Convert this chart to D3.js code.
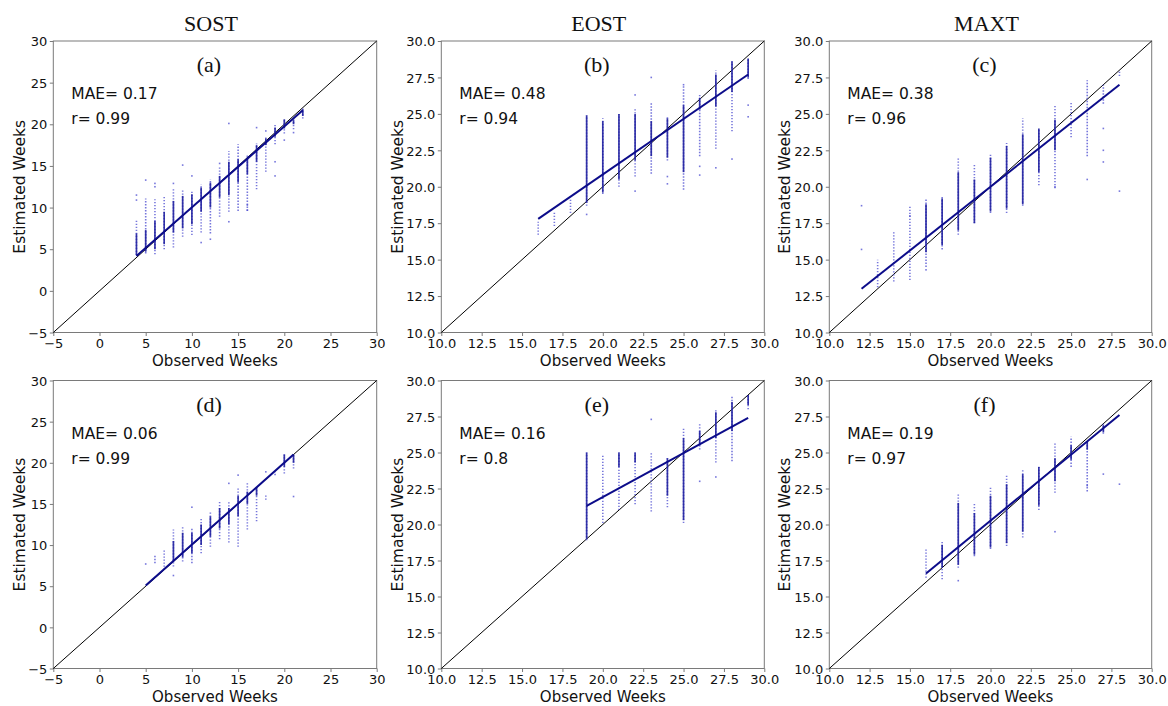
<!DOCTYPE html>
<html>
<head>
<meta charset="utf-8">
<script src="https://cdn.jsdelivr.net/npm/d3@7"></script>
<style>
  body { margin: 0; background: #fff; }
  svg { display: block; }
</style>
</head>
<body>
<svg id="fig" width="1168" height="706"></svg>
<script>
// ---- labels and statistics ----
const columnTitles = ["SOST", "EOST", "MAXT"];
const panelLetters = ["(a)", "(b)", "(c)", "(d)", "(e)", "(f)"];
const maeValues = ["0.17", "0.48", "0.38", "0.06", "0.16", "0.19"];
const rValues = ["0.99", "0.94", "0.96", "0.99", "0.8", "0.97"];

// ---- axis ranges and ticks ----
const sostDomain = [-5, 30];
const weekDomain = [10, 30];
const sostTicks = [-5, 0, 5, 10, 15, 20, 25, 30];
const weekTicks = [10, 12.5, 15, 17.5, 20, 22.5, 25, 27.5, 30];

// ---- observations: [observed week, lowest estimate, highest estimate] ----
// full spread of estimates per observed week
const spreadA = [[4,4.3,8.5],[5,4.5,11.1],[6,4.4,11],[7,5.0,11.3],[8,5.2,12.3],[9,6.5,12.1],[10,6.7,11.9],[11,7.0,12.8],[12,6.9,13.4],[13,8.9,15.0],[14,9.5,16.8],[15,9.6,17.6],[16,9.6,16.4],[17,12.2,17.7],[18,14.3,18.6],[19,17.6,19.9],[20,18.9,20.7],[21,19.4,20.6],[22,20.7,21.9]];
// dense core of estimates per observed week
const coreA = [[4,4.3,6.9],[5,4.7,7.3],[6,5.0,8.4],[7,5.6,9.5],[8,7,10.8],[9,7.5,11.4],[10,8.0,11.6],[11,9.5,12.4],[12,10,13],[13,11.2,13.8],[14,11.5,15.5],[15,13,15.8],[16,14,16],[17,15.5,17.5],[18,17.5,18.3],[19,18.5,19.6],[20,19.5,20.6],[21,20,20.5],[22,21,21.8]];
// isolated estimates: [observed, estimated]
const pointsA = [[4,11.5],[4,10.9],[5,13.3],[6,12.9],[6,12.5],[8,12.9],[9,15.1],[10,13.8],[11,5.8],[12,6.2],[13,15.3],[14,20.1],[14,8.3],[16,10.3],[16,9.7],[17,19.6],[18,19.2],[19,15.5],[19,13.8],[20,18.1],[21,19.0]];
const fitA = [[4,4.2],[22,21.7]];

const spreadB = [[16,16.7,17.6],[17,17.3,18.3],[18,18.2,19.1],[19,18.7,24.9],[20,19.5,24.7],[21,20.0,25.0],[22,20.7,25.4],[23,20.9,25.8],[24,21.8,24.8],[25,19.8,26.9],[26,22.1,26.3],[27,22.6,28.0],[28,23.8,28.7],[29,27.4,28.8]];
const coreB = [[19,18.9,24.9],[20,19.6,24.5],[21,20.5,25.0],[22,21.8,25.0],[23,22.1,24.5],[24,22.0,24.7],[25,21.0,25.6],[26,25.3,26.1],[27,25.5,27.7],[28,26.5,28.6],[29,27.5,28.8]];
const pointsB = [[19,18.1],[22,26.3],[22,19.7],[23,27.5],[24,20.7],[24,20.2],[25,27.0],[26,21.4],[26,20.8],[27,21.3],[28,21.9],[29,25.6],[29,24.8]];
const fitB = [[16,17.8],[29,27.7]];

const spreadC = [[13,13.1,15.0],[14,13.5,17.0],[15,13.6,18.7],[16,14.5,19.2],[17,15.7,19.4],[18,16.7,22.0],[19,17.5,21.6],[20,18.2,22.3],[21,18.2,23.0],[22,18.7,24.7],[23,20.1,24.0],[24,19.9,25.6],[25,23.4,25.8],[26,22.1,27.3],[27,25.7,27.0],[28,27.6,28.0]];
const coreC = [[16,15.5,18.8],[17,16.0,19.2],[18,17.0,21.0],[19,17.5,20.5],[20,18.3,22.0],[21,18.5,22.8],[22,18.8,23.6],[23,21.0,24.0],[24,22.5,24.6]];
const pointsC = [[12,18.7],[12,15.7],[15,18.0],[16,14.3],[24,20.0],[26,20.5],[27,24.0],[27,22.5],[27,21.7],[28,19.7]];
const fitC = [[12,13.0],[28,27.0]];

const spreadD = [[6,7.8,8.7],[7,7.0,9.4],[8,7.4,11.9],[9,8.0,12.3],[10,7.8,12.1],[11,9.0,13.3],[12,9.8,14.1],[13,10.7,15.3],[14,10.3,15.3],[15,9.8,17.1],[16,11.9,17.5],[17,12.9,17.1],[18,15.5,16.1],[19,18.5,18.9],[20,18.7,21.1],[21,19.3,21.1]];
const coreD = [[8,8,10.5],[9,8.5,11.5],[10,9,11.5],[11,10,12.5],[12,11,13.5],[13,12,14.5],[14,12.5,14.5],[15,13.5,16],[16,15,16.5],[17,16,17],[20,19.5,21],[21,20,21]];
const pointsD = [[5,7.7],[8,6.3],[10,14.6],[14,17.5],[15,18.5],[18,18.9],[21,15.9]];
const fitD = [[5,5.1],[21,21.0]];

const spreadE = [[19,18.9,25.0],[20,20.1,24.9],[21,21.0,25.0],[22,21.4,25.0],[23,20.9,25.0],[24,21.2,24.7],[25,20.1,26.7],[26,25.2,27.0],[27,24.3,28.0],[28,24.4,28.9],[29,28.0,29.0]];
const coreE = [[19,19.0,25.0],[21,24,25],[22,24.3,25],[24,22,24.6],[25,20.3,26],[26,25.5,26.5],[27,26,27.8],[28,26.5,28.5],[29,28.3,29]];
const pointsE = [[23,27.3],[26,23.0],[27,23.3]];
const fitE = [[19,21.3],[29,27.4]];

const spreadF = [[16,16.3,18.3],[17,16.2,18.9],[18,17.0,22.2],[19,17.8,21.5],[20,18.3,22.6],[21,18.5,23.4],[22,19.1,23.8],[23,21.0,24.1],[24,22.2,25.7],[25,24.0,26.1],[26,22.3,25.8],[27,26.3,27.0]];
const coreF = [[17,17,18.6],[18,17.2,21.5],[19,17.9,20.8],[20,18.4,22.0],[21,18.7,22.8],[22,19.5,23.5],[23,21.3,24.0],[24,23,24.6],[25,24.5,25.5],[26,25.2,25.8],[27,26.4,26.9]];
const pointsF = [[18,16.1],[24,19.5],[26,22.7],[27,23.5],[28,22.8]];
const fitF = [[16,16.6],[28,27.6]];

// ---- panel assembly ----
const panels = [
  { spread: spreadA, core: coreA, points: pointsA, fit: fitA, domain: sostDomain, ticks: sostTicks },
  { spread: spreadB, core: coreB, points: pointsB, fit: fitB, domain: weekDomain, ticks: weekTicks },
  { spread: spreadC, core: coreC, points: pointsC, fit: fitC, domain: weekDomain, ticks: weekTicks },
  { spread: spreadD, core: coreD, points: pointsD, fit: fitD, domain: sostDomain, ticks: sostTicks },
  { spread: spreadE, core: coreE, points: pointsE, fit: fitE, domain: weekDomain, ticks: weekTicks },
  { spread: spreadF, core: coreF, points: pointsF, fit: fitF, domain: weekDomain, ticks: weekTicks }
];

// plot frames (left, right) per column and (top, bottom) per row
const colX = [[53.3, 376.7], [441.3, 764.3], [829.3, 1151.7]];
const rowY = [[41, 332.5], [380.5, 668.5]];
// distance from the frame to the y-axis title baseline (wider tick labels push it out)
const yTitleGap = [28.5, 38, 39];
// distance from the frame bottom to the x-axis title baseline
const xTitleGap = [33.5, 33];

const svg = d3.select("#fig");
const sans = "DejaVu Sans, sans-serif";
const serif = "'Liberation Serif', 'DejaVu Serif', serif";
const spineColor = "#7a7a7a";

columnTitles.forEach((t, c) => {
  const [x0, x1] = colX[c];
  svg.append("text")
    .attr("x", (x0 + x1) / 2 - 4).attr("y", 30.5)
    .attr("text-anchor", "middle")
    .attr("font-family", serif).attr("font-size", 22)
    .attr("fill", "#111")
    .text(t);
});

panels.forEach((p, i) => {
  const c = i % 3, r = Math.floor(i / 3);
  const [x0, x1] = colX[c];
  const [y0, y1] = rowY[r];
  const x = d3.scaleLinear().domain(p.domain).range([x0, x1]);
  const y = d3.scaleLinear().domain(p.domain).range([y1, y0]);
  const fmt = p.domain[0] < 0 ? d3.format("d") : d3.format(".1f");
  const g = svg.append("g");

  // axes
  const xa = g.append("g").attr("transform", `translate(0,${y1})`)
    .call(d3.axisBottom(x).tickValues(p.ticks).tickFormat(fmt).tickSize(3.5).tickPadding(2.5).tickSizeOuter(0));
  const ya = g.append("g").attr("transform", `translate(${x0},0)`)
    .call(d3.axisLeft(y).tickValues(p.ticks).tickFormat(fmt).tickSize(3.5).tickPadding(2.5).tickSizeOuter(0));
  [xa, ya].forEach(a => {
    a.select(".domain").remove();
    a.selectAll("line").attr("stroke", spineColor).attr("stroke-width", 1);
    a.selectAll("text").attr("font-family", sans).attr("font-size", 13).attr("fill", "#111");
  });
  ya.selectAll("text").attr("dy", "0.36em");

  // frame
  g.append("rect").attr("x", x0).attr("y", y0)
    .attr("width", x1 - x0).attr("height", y1 - y0)
    .attr("fill", "none").attr("stroke", spineColor).attr("stroke-width", 1);

  // axis titles
  g.append("text")
    .attr("x", (x0 + x1) / 2).attr("y", y1 + xTitleGap[r])
    .attr("text-anchor", "middle")
    .attr("font-family", sans).attr("font-size", 15).attr("fill", "#111")
    .text("Observed Weeks");
  g.append("text")
    .attr("transform", `translate(${x0 - yTitleGap[c]},${(y0 + y1) / 2}) rotate(-90)`)
    .attr("text-anchor", "middle")
    .attr("font-family", sans).attr("font-size", 15.5).attr("fill", "#111")
    .text("Estimated Weeks");

  const plot = g.append("g");

  // one-to-one reference line
  plot.append("line")
    .attr("x1", x(p.domain[0])).attr("y1", y(p.domain[0]))
    .attr("x2", x(p.domain[1])).attr("y2", y(p.domain[1]))
    .attr("stroke", "#000").attr("stroke-width", 1);

  // spread of estimates (loosely packed dots)
  plot.selectAll(".spread").data(p.spread).join("line")
    .attr("x1", d => x(d[0])).attr("x2", d => x(d[0]))
    .attr("y1", d => y(d[1])).attr("y2", d => y(d[2]))
    .attr("stroke", "#4a4ad0").attr("stroke-width", 1.6)
    .attr("stroke-dasharray", "1.3,1.7").attr("opacity", 0.75);

  // dense core of estimates
  plot.selectAll(".core").data(p.core).join("line")
    .attr("x1", d => x(d[0])).attr("x2", d => x(d[0]))
    .attr("y1", d => y(d[1])).attr("y2", d => y(d[2]))
    .attr("stroke", "#2020a0").attr("stroke-width", 1.7).attr("opacity", 0.9);

  // isolated estimates
  plot.selectAll(".pt").data(p.points).join("rect")
    .attr("x", d => x(d[0]) - 0.8).attr("y", d => y(d[1]) - 0.8)
    .attr("width", 1.6).attr("height", 1.6)
    .attr("fill", "#4a4ad0").attr("opacity", 0.75);

  // regression line
  plot.append("line")
    .attr("x1", x(p.fit[0][0])).attr("y1", y(p.fit[0][1]))
    .attr("x2", x(p.fit[1][0])).attr("y2", y(p.fit[1][1]))
    .attr("stroke", "#0c0c8a").attr("stroke-width", 2);

  // annotations
  g.append("text")
    .attr("x", (x0 + x1) / 2 - 6).attr("y", y0 + 31)
    .attr("text-anchor", "middle")
    .attr("font-family", serif).attr("font-size", 22).attr("fill", "#111")
    .text(panelLetters[i]);
  g.append("text")
    .attr("x", x0 + 18).attr("y", y0 + 58)
    .attr("font-family", sans).attr("font-size", 15.5).attr("fill", "#111")
    .text("MAE= " + maeValues[i]);
  g.append("text")
    .attr("x", x0 + 18).attr("y", y0 + 83)
    .attr("font-family", sans).attr("font-size", 15.5).attr("fill", "#111")
    .text("r= " + rValues[i]);
});
</script>
</body>
</html>
